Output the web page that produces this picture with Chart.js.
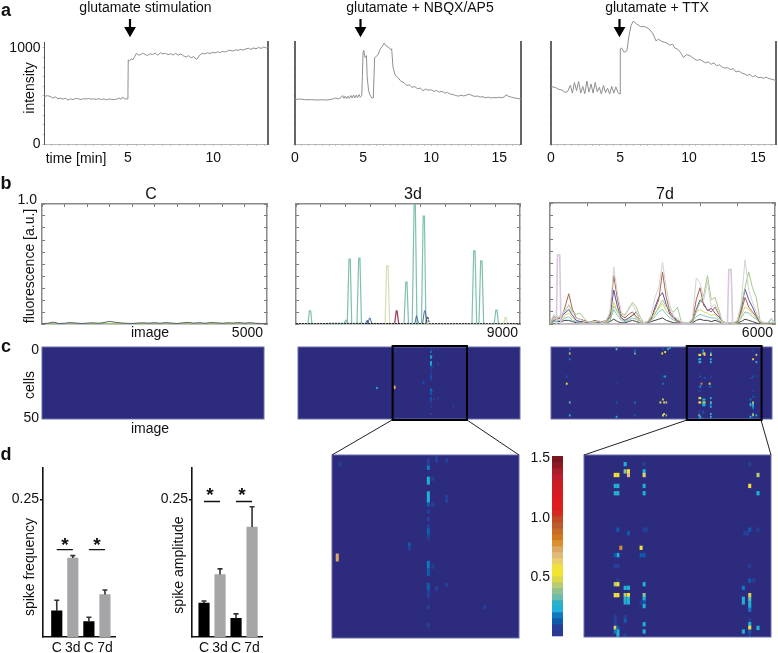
<!DOCTYPE html>
<html>
<head>
<meta charset="utf-8">
<script src="https://cdn.jsdelivr.net/npm/chart.js@4"></script>
<style>
  body { margin: 0; background: #fff; }
  #fig { position: relative; width: 778px; height: 653px; overflow: hidden; }
  #fig canvas { position: absolute; }
  #fig svg { position: absolute; left: 0; top: 0; }
  .t { position: absolute; white-space: nowrap; line-height: 1; color: #111; font-family: "Liberation Sans", Arial, sans-serif; }
</style>
</head>
<body>
<div id="fig"></div>
<script>
// Panel a: intensity traces
const a1Time = [0,.15,.3,.45,.6,.75,.9,1.05,1.2,1.35,
  1.5,1.65,1.8,1.95,2.1,2.25,2.4,2.55,2.7,2.85,
  3,3.15,3.3,3.45,3.6,3.75,3.9,4.05,4.2,4.35,
  4.5,4.6,4.7,4.8,4.9,5,5.02,5.1,5.2,5.3,
  5.4,5.5,5.6,5.7,5.85,6,6.15,6.3,6.45,6.6,
  6.75,6.9,7.05,7.2,7.35,7.5,7.65,7.8,7.95,8.1,
  8.25,8.4,8.55,8.7,8.85,9,9.1,9.2,9.35,9.5,
  9.65,9.8,9.95,10.1,10.25,10.4,10.55,10.7,10.85,11,
  11.15,11.3,11.45,11.6,11.75,11.9,12.05,12.2,12.35,12.5,
  12.65,12.8,12.95,13.1,13.2];
const a1Intensity = [493,497,503,495,480,490,472,478,468,475,
  458,470,462,475,470,463,472,468,474,466,
  470,465,472,463,468,460,470,464,462,468,
  478,465,490,468,470,468,875,868,885,878,
  910,944,930,925,945,934,920,940,932,945,
  925,951,938,945,930,940,927,945,925,937,
  918,905,920,898,910,882,895,925,944,938,
  950,942,955,948,960,952,965,958,970,975,
  968,980,975,985,978,990,997,985,1000,992,
  1005,995,1010,1000,1007];

const a2Time = [0,0.4,0.8,1.2,1.6,2,2.4,2.8,3,3.2,3.4,3.5,3.6,3.7,3.8,3.9,4,4.1,4.2,4.3,4.4,4.5,4.6,4.7,4.8,4.9,4.95,5,5.05,5.15,5.25,5.3,5.4,5.5,5.65,5.75,5.85,5.95,6.1,6.25,6.4,6.55,6.7,6.9,7,7.1,7.2,7.35,
  7.6,7.8,8,8.2,8.4,8.6,8.8,9,9.2,9.4,
  9.6,9.8,10,10.2,10.4,10.6,10.8,11,11.2,11.4,
  11.6,11.8,12,12.2,12.4,12.6,12.8,13,13.2,13.4,
  13.6,13.8,14,14.2,14.4,14.6,14.8,15,15.2,15.4,
  15.5,15.7,15.9,16.1,16.3,16.6];
const a2Intensity = [465,468,460,462,458,460,458,470,480,470,485,505,475,500,472,498,475,505,478,510,480,510,482,515,488,500,700,960,975,900,920,700,560,510,478,480,900,910,930,985,1015,1050,1020,1005,985,990,800,720,
  685,650,640,610,615,590,598,575,582,555,
  572,560,565,548,556,540,548,530,537,520,
  515,505,498,508,500,510,518,505,495,500,
  488,494,480,488,478,485,480,487,482,492,
  512,495,488,480,476,468];

const a3Time = [0,0.3,0.5,0.8,1,1.2,1.4,1.55,1.7,1.85,2,2.15,2.3,2.45,2.6,2.75,2.9,3.05,3.2,3.35,3.5,3.65,3.8,3.95,4.1,4.25,4.4,4.55,4.7,4.85,5,5.02,5.1,5.3,5.5,5.65,5.8,5.95,6.2,6.5,6.8,7.1,7.4,
  7.6,7.8,8,8.2,8.4,8.6,8.8,9,9.2,9.4,
  9.6,9.8,10,10.2,10.4,10.6,10.8,11,11.2,11.4,
  11.6,11.8,12,12.2,12.4,12.6,12.8,13,13.2,13.4,
  13.6,13.8,14,14.2,14.4,14.6,14.8,15,15.2,15.4,
  15.6,15.8,16,16.3];
const a3Intensity = [597,590,573,560,538,545,610,530,640,555,650,530,600,525,655,540,625,530,640,545,590,520,610,535,580,520,600,530,595,535,520,990,1000,955,972,1128,1233,1278,1250,1222,1222,1198,1146,
  1075,1090,1070,1060,1050,1030,1040,995,985,950,
  900,930,925,905,885,870,880,860,845,855,
  830,845,815,825,800,790,795,775,785,750,
  760,740,730,715,725,700,712,690,695,685,
  695,680,675,660];

// Panel b: normalised fluorescence
const b1Image = [0,125,250,375,500,625,750,875,1000,1125,1250,1375,1500,1625,1750,1875,2000,2125,2250,2375,2500,2625,2750,2875,3000,3125,3250,3375,3500,3625,3750,3875,4000,4125,4250,4375,4500,4625,4750,4875,5000];
const b1Dark = [0.003,0.006,0.015,0.004,0.006,0.012,0.008,0.004,0.007,0.010,0.006,0.012,0.022,0.014,0.009,0.006,0.004,0.008,0.010,0.007,0.011,0.006,0.012,0.008,0.004,0.010,0.013,0.007,0.011,0.006,0.012,0.010,0.006,0.010,0.008,0.012,0.007,0.011,0.006,0.004,0.003];
const b1Green = [0.002,0.003,0.004,0.002,0.003,0.004,0.003,0.002,0.003,0.004,0.002,0.004,0.005,0.004,0.003,0.002,0.003,0.003,0.004,0.002,0.003,0.003,0.004,0.003,0.002,0.003,0.004,0.003,0.004,0.002,0.004,0.003,0.002,0.003,0.004,0.003,0.002,0.003,0.003,0.002,0.002];

const b2TealImage = [0,480,540,590,640,1930,1990,2030,2060,2130,2180,2240,2450,2520,2570,2630,4340,4410,4460,4520,4670,4745,4795,4860,5040,5110,5160,5220,7070,7140,7195,7260,7350,7420,7475,7540,7960,8030,8075,8140,9000];
const b2Teal = [0,0,0.11,0.11,0,0,0.03,0.03,0,0.54,0.54,0,0,0.55,0.55,0,0,0.35,0.35,0,0,0.995,0.995,0,0,0.90,0.90,0,0,0.61,0.61,0,0,0.526,0.526,0,0,0.115,0.115,0,0];
const b2PaleImage = [3580,3640,3700,3760,8340,8410,8440,8500];
const b2Pale = [0,0.485,0.485,0,0,0.055,0.055,0];
const b2RedImage = [3960,4030,4060,4130];
const b2Red = [0,0.11,0.11,0];
const b2BlueImage = [2790,2850,2870,2880,2950,2980,3050,4770,4840,4860,4930,5080,5160,5190,5270];
const b2Blue = [0,0.03,0.03,0,0.05,0.05,0,0,0.07,0.07,0,0,0.11,0.11,0];
const b2BlackImage = [0,1200,1300,5220,5280,5300,5360,9000];
const b2Black = [0.003,0.003,0.006,0.003,0.06,0.06,0.003,0.003];

const b3Image = [0,100,200,300,400,500,600,700,800,900,1000,1100,1200,1300,1400,1500,1600,1700,1800,1900,2000,2100,2200,2300,2400,2500,2600,2700,2800,2900,3000,3100,3200,3300,3400,3500,3600,3700,3800,3900,4000,4100,4200,4300,4400,4500,4600,4700,4800,4900,5000,5100,5200,5300,5400,5500,5600,5700,5800,5900,6000];
const b3Gray = [.01,.08,.06,.06,.12,.15,.08,.05,.04,.02, .02,.01,.02,.03,.01,.03,.10,.47,.25,.10, .06,.14,.16,.10,.03,.01,.02,.08,.22,.30, .51,.30,.15,.06,.05,.01,.01,.01,.05,.38, .34,.20,.35,.14,.16,.10,.02,.01,.01,.01, .03,.18,.53,.28,.18,.10,.02,.01,.01,.05,.01];
const b3Green = [.01,.04,.05,.08,.10,.16,.10,.08,.09,.05, .02,.02,.02,.02,.01,.02,.03,.15,.10,.08, .08,.12,.18,.14,.06,.01,.02,.06,.08,.14, .20,.14,.12,.10,.14,.02,.01,.01,.02,.10, .18,.24,.40,.20,.22,.12,.02,.01,.01,.01, .03,.15,.30,.43,.30,.22,.03,.01,.01,.01,.01];
const b3Brown = [.01,.06,.05,.04,.14,.25,.12,.05,.04,.03, .02,.02,.03,.02,.02,.03,.08,.40,.20,.07, .05,.08,.10,.06,.03,.01,.02,.05,.12,.20, .43,.22,.10,.06,.03,.01,.01,.01,.03,.20, .30,.15,.12,.10,.14,.08,.02,.01,.01,.01, .02,.10,.22,.14,.10,.06,.01,.01,0,0,0];
const b3Blue = [.01,.03,.04,.06,.09,.12,.07,.03,.02,.02, .01,.01,.02,.01,.01,.02,.06,.28,.14,.05, .03,.05,.07,.10,.03,.01,.01,.04,.14,.22, .26,.16,.08,.05,.02,.01,.01,.01,.02,.12, .20,.17,.11,.13,.09,.06,.02,.01,.01,.01, .02,.12,.29,.20,.14,.07,.01,.01,0,0,0];
const b3Yellow = [0,.03,.05,.04,.07,.09,.05,.03,.02,.01, .01,.01,.01,.01,.01,.01,.05,.18,.10,.04, .03,.04,.08,.05,.02,0,.01,.03,.09,.13, .17,.11,.07,.04,.02,.01,0,0,.02,.10, .12,.10,.09,.07,.08,.04,.01,0,0,0, .01,.07,.14,.12,.08,.05,.01,0,0,0,0];
const b3Teal = [0,.02,.03,.03,.05,.06,.03,.02,.01,.01, .01,.01,.01,.01,.01,.01,.03,.12,.07,.03, .02,.03,.05,.04,.01,.01,.01,.03,.06,.10, .12,.08,.05,.03,.02,.01,.01,.01,.02,.06, .08,.07,.06,.05,.05,.03,.01,.01,0,0, .01,.05,.10,.09,.06,.04,.01,0,0,.04,0];
const b3Dark = [0,.02,.02,.02,.03,.03,.02,.01,.01,.02, .01,.01,.02,.01,.01,.01,.02,.04,.02,.01, .01,.02,.03,.02,.01,0,.01,.02,.03,.04, .05,.03,.02,.01,.01,0,0,0,.01,.03, .04,.03,.03,.02,.03,.02,0,0,0,0, .01,.02,.04,.03,.02,.01,0,0,0,0,0];
const b3LilacImage = [170,200,260,290,4730,4770,4830,4870];
const b3Lilac = [0,.57,.57,0,0,.45,.45,0];

// Panel c: active cells, everything not listed sits at the zero level
const c1Cols = [];
const c1Rows = [];
const c1Vals = [];

const c2Cols = [5389,5389,5389,5389,5389,5389,5389,5389,5389,5389,5389,5389,5389,5389,5389,5389,5389,5389,5389,5389,5389,5389,5389,5389,5389,5522,5522,5683,5683,5683,3969,5083,5083,3920,3920,5458,5458,5458,5522,5683,6299,3202];
const c2Rows = [1,2,3,6,7,10,11,12,13,15,17,19,20,21,22,29,30,31,32,35,36,37,38,41,46,0,1,1,11,12,2,24,25,27,28,6,13,30,36,35,41,28];
const c2Vals = [.07,.07,.15,.22,.2,.2,.22,.2,.12,.08,.06,.08,.1,.1,.08,.15,.15,.14,.12,.1,.1,.09,.07,.07,.05,.08,.08,.06,.08,.07,.06,.1,.08,.7,.72,.06,.05,.07,.05,.06,.05,.2];

const c3Cols = [4133,4133,4169,4169,4025,4054,4339,4339,4339,4025,4054,4339,4025,4054,4339,5576,5486,5576,5486,4054,4339,4367,5486,5576,4169,5432,5461,4086,4306,4054,4025,4306,4339,4025,4054,5486,5486,5529,4054,4025,4054,4339,4133,4169,5417,4025,4054,4133,4169,4339,5486,4133,4169,4339,5417,5486,4133,4169,5417,5486,4339,4306,4339,5486,5486,4025,4133,4133,4025,5486,4339,4025,5486,4025,5486,5576,4054,4054,4025,4339,5417,5486,4054,5486,4133,
  509,509,509,1780,2278,2278,3176,3040,3230,3020,3100,3040,3100,3040,427,427,1780,1780,509,2278,3040,2970,3070,3130,3040,3070,3130,509,1780,2278];
const c3Rows = [2,4,4,5,5,5,4,5,2,8,8,8,10,10,10,5,8,10,2,20,20,20,20,20,21,21,21,25,25,27,27,27,27,30,30,30,34,34,34,35,35,35,36,36,36,38,38,38,38,38,38,39,39,39,39,39,40,40,40,40,40,40,41,41,42,44,44,45,45,45,46,46,46,47,47,47,47,48,48,48,48,48,49,49,49,
  1,4,8,1,2,4,1,1,0,4,3,20,20,25,20,25,25,38,38,38,36,38,38,38,47,46,47,47,48,47];
const c3Vals = [.2,.35,.55,.65,.55,.5,.2,.6,.07,.2,.2,.2,.2,.25,.2,.4,.55,.2,.08,.12,.08,.08,.1,.08,.1,.08,.08,.75,.55,.2,.1,.12,.1,.06,.06,.08,.1,.08,.08,.4,.5,.2,.2,.2,.15,.55,.5,.4,.5,.35,.45,.25,.25,.2,.2,.3,.2,.2,.2,.25,.1,.08,.2,.2,.15,.07,.08,.1,.05,.06,.2,.08,.2,.6,.55,.2,.1,.25,.15,.2,.2,.1,.2,.08,.05,
  .15,.4,.15,.3,.15,.3,.25,.1,.25,.5,.5,.12,.2,.15,.1,.5,.08,.12,.3,.15,.45,.5,.6,.4,.5,.6,.3,.2,.2,.1];

// Colour bar
const colorbarLevels = [0,.05,.1,.15,.2,.25,.3,.35,.4,.45,.5,.55,.6,.65,.7,.75,.8,.85,.9,.95,1,1.05,1.1,1.15,1.2,1.25,1.3,1.35,1.4,1.45];
const colorbarColors = ['#2b3990','#26409a','#0f5cab','#1177bf','#1fb0d8','#2bb0c8','#6cbcae','#8dc18f','#b8cb6e','#dcd84a','#f1e52e','#f3e03a','#e8cf6a','#e2bb7a','#dba763','#d98f30','#cf7a1e','#c76b26','#bb5a2a','#c24a22','#d42a1f','#e01f1d','#e01b1e','#d81b20','#d01c22','#c91d23','#be1e2d','#a81e2a','#8e1a26','#7a1620'];

// Panel d: bars
const dCategories = ['C','3d','C','7d'];
const dPositions = [1,2,3,4];
const freqMeans = [0.0474,0.1435,0.028,0.0773];
const freqErrors = [0.0668,0.148,0.036,0.0855];
const ampMeans = [0.0615,0.1135,0.034,0.2];
const ampErrors = [0.0655,0.124,0.042,0.237];
const freqBrackets = [[1,2,0.159],[3,4,0.159]];
const ampBrackets = [[1,2,0.2465],[3,4,0.2465]];

const fig = document.getElementById('fig');
const FONT = '"Liberation Sans", Arial, sans-serif';
const NAVY = '#2d2b7d';

function xy(xs, ys) {
  return xs.map((x, i) => ({ x: x, y: ys[i] }));
}

function text(str, x, y, opt) {
  opt = opt || {};
  const d = document.createElement('div');
  d.className = 't';
  d.textContent = str;
  d.style.left = x + 'px';
  d.style.top = y + 'px';
  d.style.fontSize = (opt.size || 14) + 'px';
  if (opt.bold) d.style.fontWeight = 'bold';
  let tr = opt.right ? 'translate(-100%,-50%)' : 'translate(-50%,-50%)';
  if (opt.rotate) tr += ' rotate(-90deg)';
  d.style.transform = tr;
  fig.appendChild(d);
}

// canvas around plot box l,t,r,b. Axes with labels take the margin, the rest get zero size, so the box is exact
function addChart(box, config, pad) {
  const c = document.createElement('canvas');
  const w = box[2] - box[0] + pad.l + pad.r;
  const h = box[3] - box[1] + pad.t + pad.b;
  c.width = w;
  c.height = h;
  c.style.left = (box[0] - pad.l) + 'px';
  c.style.top = (box[1] - pad.t) + 'px';
  c.style.width = w + 'px';
  c.style.height = h + 'px';
  fig.appendChild(c);
  const padding = { left: pad.l, top: pad.t, right: pad.r, bottom: pad.b };
  Object.values(config.options.scales).forEach(s => {
    const labelled = !s.ticks || s.ticks.display !== false;
    const isLeft = s.labelSide === 'left';
    const isBottom = s.labelSide === 'bottom';
    if (labelled && isLeft) padding.left = 0;
    if (labelled && isBottom) padding.bottom = 0;
    s.afterFit = ax => {
      if (ax.isHorizontal()) ax.height = labelled && isBottom ? pad.b : 0;
      else ax.width = labelled && isLeft ? pad.l : 0;
    };
  });
  config.options = Object.assign({
    responsive: false,
    animation: false,
    layout: { padding: padding },
    plugins: { legend: { display: false }, tooltip: { enabled: false } }
  }, config.options);
  return new Chart(c.getContext('2d'), config);
}

function traceChart(box, time, values, xMax, xMin, xLabels, showY, leftColor, leftWidth, unclipped) {
  addChart(box, {
    type: 'line',
    data: { datasets: [{ data: xy(time, values), borderColor: '#8f8f8f', borderWidth: 1, pointRadius: 0, tension: 0, clip: unclipped ? false : undefined }] },
    options: {
      scales: {
        x: {
          type: 'linear', min: xMin, max: xMax, labelSide: 'bottom',
          border: { color: '#b5b5b5', width: 1 },
          grid: { drawOnChartArea: false, color: '#c4c4c4', tickLength: 2 },
          ticks: {
            stepSize: 0.5, includeBounds: false, autoSkip: false, maxRotation: 0, padding: 4,
            color: '#111', font: { family: FONT, size: 14 },
            callback: v => xLabels.includes(v) ? String(v) : ''
          }
        },
        y: {
          type: 'linear', min: 0, max: 1062, labelSide: 'left',
          border: { color: leftColor, width: leftWidth },
          grid: { drawOnChartArea: false, color: '#c4c4c4', tickLength: 1.5 },
          ticks: {
            stepSize: 100, includeBounds: false, autoSkip: false, display: showY, padding: 2,
            color: '#111', font: { family: FONT, size: 14 },
            callback: v => (v === 0 || v === 1000) ? String(v) : ''
          }
        },
        yR: {
          type: 'linear', position: 'right', min: 0, max: 1062,
          border: { color: '#666', width: 2 },
          grid: { display: false }, ticks: { display: false }
        }
      }
    }
  }, { l: 44, t: 30, r: 4, b: 24 });
}

function fluorChart(box, xMax, xStep, datasets) {
  const frame = { color: '#8a8a8a', width: 1.5 };
  const inner = { drawOnChartArea: false, color: '#777', tickLength: -3 };
  datasets.forEach(d => {
    d.pointRadius = 0;
    d.tension = 0;
    d.borderWidth = d.borderWidth || 1;
  });
  addChart(box, {
    type: 'line',
    data: { datasets: datasets },
    options: {
      scales: {
        x: { type: 'linear', min: 0, max: xMax, border: frame, grid: { display: false }, ticks: { display: false } },
        xT: { type: 'linear', position: 'top', min: 0, max: xMax, border: frame, grid: inner, ticks: { stepSize: xStep, display: false, includeBounds: false, autoSkip: false } },
        y: { type: 'linear', min: 0, max: 1, border: frame, grid: inner, ticks: { stepSize: 0.1, display: false, includeBounds: false, autoSkip: false } },
        yR: { type: 'linear', position: 'right', min: 0, max: 1, border: frame, grid: inner, ticks: { stepSize: 0.1, display: false, includeBounds: false, autoSkip: false } }
      }
    }
  }, { l: 6, t: 6, r: 6, b: 6 });
}

function cellColor(v) {
  let k = 0;
  colorbarLevels.forEach((l, i) => { if (v >= l) k = i; });
  return colorbarColors[k];
}

// zero-level background and edge of a heat map, plus the optional black zoom box
function heatDecor(zoomBox) {
  return {
    id: 'heatDecor',
    beforeDatasetsDraw(chart) {
      const a = chart.chartArea, g = chart.ctx;
      g.fillStyle = NAVY;
      g.fillRect(a.left, a.top, a.width, a.height);
    },
    afterDatasetsDraw(chart) {
      const a = chart.chartArea, g = chart.ctx;
      g.strokeStyle = '#6d6cae';
      g.lineWidth = 1;
      g.strokeRect(a.left, a.top, a.width, a.height);
      if (zoomBox) {
        const x0 = chart.scales.x.getPixelForValue(zoomBox[0]);
        const x1 = chart.scales.x.getPixelForValue(zoomBox[1]);
        g.strokeStyle = '#000';
        g.lineWidth = 2;
        g.strokeRect(x0, a.top - 1, x1 - x0, a.height + 2);
      }
    }
  };
}

function heatChart(box, cols, rows, vals, xMin, xMax, thickness, zoomBox) {
  addChart(box, {
    type: 'bar',
    data: { datasets: [{
      data: cols.map((c, i) => ({ x: c, y: [rows[i], rows[i] + 1] })),
      backgroundColor: vals.map(cellColor),
      barThickness: thickness,
      borderWidth: 0,
      clip: 0
    }] },
    options: {
      scales: {
        x: { type: 'linear', offset: false, min: xMin, max: xMax, display: false },
        y: { type: 'linear', min: 0, max: 50, reverse: true, display: false }
      }
    },
    plugins: [heatDecor(zoomBox)]
  }, { l: 3, t: 3, r: 3, b: 3 });
}

function barChart(box, means, errors, brackets, xMin, xMax) {
  const lines = brackets.map(b => ({
    type: 'line',
    data: [{ x: b[0], y: b[2] }, { x: b[1], y: b[2] }],
    borderColor: '#111', borderWidth: 1.3, pointRadius: 0
  }));
  const errorBars = {
    id: 'errorBars',
    afterDatasetsDraw(chart) {
      const g = chart.ctx, sx = chart.scales.x, sy = chart.scales.y;
      g.strokeStyle = '#333';
      g.lineWidth = 1.6;
      means.forEach((m, i) => {
        const x = sx.getPixelForValue(dPositions[i]);
        const y0 = sy.getPixelForValue(m), y1 = sy.getPixelForValue(errors[i]);
        g.beginPath();
        g.moveTo(x, y0);
        g.lineTo(x, y1);
        g.moveTo(x - 2.5, y1);
        g.lineTo(x + 2.5, y1);
        g.stroke();
      });
    }
  };
  addChart(box, {
    type: 'bar',
    data: { datasets: [{
      data: xy(dPositions, means),
      backgroundColor: ['#000', '#a5a5a8', '#000', '#a5a5a8'],
      barThickness: 10.5
    }].concat(lines) },
    options: {
      scales: {
        x: {
          type: 'linear', offset: false, min: xMin, max: xMax, labelSide: 'bottom',
          border: { color: '#111', width: 1.6 },
          grid: { display: false, drawTicks: false },
          afterBuildTicks: ax => { ax.ticks = dPositions.map(v => ({ value: v })); },
          ticks: {
            autoSkip: false, maxRotation: 0, padding: 3,
            color: '#111', font: { family: FONT, size: 14 },
            callback: v => dCategories[v - 1]
          }
        },
        y: {
          type: 'linear', min: 0, max: 0.3085, labelSide: 'left',
          border: { color: '#111', width: 1.6 },
          grid: { drawOnChartArea: false, color: '#111', tickLength: 3, lineWidth: 1.4 },
          afterBuildTicks: ax => { ax.ticks = [{ value: 0.25 }]; },
          ticks: {
            padding: 1, color: '#111', font: { family: FONT, size: 14 },
            callback: v => v.toFixed(2)
          }
        }
      }
    },
    plugins: [errorBars]
  }, { l: 40, t: 4, r: 6, b: 16 });
}

// a
traceChart([44, 42, 268, 144], a1Time, a1Intensity, 13.2, 0.09, [5, 10], true, '#555', 1, false);
traceChart([295, 42, 521, 144], a2Time, a2Intensity, 16.6, 0, [0, 5, 10, 15], false, '#666', 2, false);
traceChart([551, 42, 776, 144], a3Time, a3Intensity, 16.3, 0, [0, 5, 10, 15], false, '#666', 2, true);

// b
fluorChart([42, 204, 267, 324], 5000, 500, [
  { data: xy(b1Image, b1Dark), borderColor: '#55606a' },
  { data: xy(b1Image, b1Green), borderColor: '#9ccb6a' }
]);
fluorChart([296, 204, 520, 324], 9000, 1000, [
  { data: xy(b2BlackImage, b2Black), borderColor: '#222', borderDash: [2, 1] },
  { data: xy(b2PaleImage, b2Pale), borderColor: '#d9dcb4', borderWidth: 1.2 },
  { data: xy(b2RedImage, b2Red), borderColor: '#a03a50', borderWidth: 1.2 },
  { data: xy(b2BlueImage, b2Blue), borderColor: '#4a6ea0', borderWidth: 1 },
  { data: xy(b2TealImage, b2Teal), borderColor: '#7fc0b0', borderWidth: 1.2 }
]);
fluorChart([550, 203, 775, 324], 6000, 1000, [
  { data: xy(b3LilacImage, b3Lilac), borderColor: '#d8c8dc', borderWidth: 1.6 },
  { data: xy(b3Image, b3Gray), borderColor: '#d2d2d2' },
  { data: xy(b3Image, b3Green), borderColor: '#a5c88a' },
  { data: xy(b3Image, b3Brown), borderColor: '#a8644e' },
  { data: xy(b3Image, b3Blue), borderColor: '#5a4fa0' },
  { data: xy(b3Image, b3Yellow), borderColor: '#d9d46a' },
  { data: xy(b3Image, b3Teal), borderColor: '#7fc4c4' },
  { data: xy(b3Image, b3Dark), borderColor: '#444' }
]);

// c
heatChart([42, 347, 264, 419], c1Cols, c1Rows, c1Vals, 0, 5000, 1);
heatChart([298, 347, 520, 419], c2Cols, c2Rows, c2Vals, 0, 9000, 1.1, [3835, 6851]);
heatChart([551, 347, 772, 419], c3Cols, c3Rows, c3Vals, 0, 6000, 1.1, [3686, 5717]);
heatChart([332, 455, 519, 638], c2Cols, c2Rows, c2Vals, 3835, 6851, 2.4);
heatChart([584, 455, 771, 637], c3Cols, c3Rows, c3Vals, 3686, 5717, 2.4);

// colour bar
addChart([552, 456, 563, 638], {
  type: 'bar',
  data: { datasets: [{
    data: colorbarLevels.map((l, i) => ({ x: 0, y: [l, l + 0.05] })),
    backgroundColor: colorbarColors,
    barThickness: 11,
    borderWidth: 0
  }] },
  options: {
    scales: {
      x: { type: 'linear', offset: false, min: -1, max: 1, display: false },
      y: { type: 'linear', min: -0.017, max: 1.5, display: false }
    }
  }
}, { l: 3, t: 3, r: 3, b: 3 });

// d
barChart([43, 462, 115, 637], freqMeans, freqErrors, freqBrackets, 0.144, 4.625);
barChart([192, 462, 262, 637], ampMeans, ampErrors, ampBrackets, 0.25, 4.62);

// arrows and zoom connectors
const svgNS = 'http://www.w3.org/2000/svg';
const svg = document.createElementNS(svgNS, 'svg');
svg.setAttribute('width', 778);
svg.setAttribute('height', 653);
[[130, 19], [360.5, 19], [619.5, 19]].forEach(p => {
  const a = document.createElementNS(svgNS, 'path');
  a.setAttribute('d', `M${p[0]} ${p[1]}V${p[1] + 9}M${p[0] - 4} ${p[1] + 9}L${p[0]} ${p[1] + 16}L${p[0] + 4} ${p[1] + 9}Z`);
  a.setAttribute('stroke', '#000');
  a.setAttribute('stroke-width', 2.2);
  a.setAttribute('fill', '#000');
  svg.appendChild(a);
});
[[392, 420, 332, 455], [467, 420, 519, 455], [687, 420, 584, 455], [761, 420, 771, 455]].forEach(p => {
  const l = document.createElementNS(svgNS, 'line');
  l.setAttribute('x1', p[0]); l.setAttribute('y1', p[1]);
  l.setAttribute('x2', p[2]); l.setAttribute('y2', p[3]);
  l.setAttribute('stroke', '#222');
  l.setAttribute('stroke-width', 1);
  svg.appendChild(l);
});
fig.appendChild(svg);

// text
text('a', 6, 10, { size: 18, bold: true });
text('b', 6, 183, { size: 18, bold: true });
text('c', 6, 346, { size: 18, bold: true });
text('d', 6, 454, { size: 18, bold: true });
text('glutamate stimulation', 145.5, 7);
text('glutamate + NBQX/AP5', 420, 7);
text('glutamate + TTX', 657, 7);
text('intensity', 29, 88, { rotate: true });
text('time [min]', 76, 158);
text('C', 151, 194, { size: 16 });
text('3d', 413, 194, { size: 16 });
text('7d', 665, 194, { size: 16 });
text('1.0', 37, 199, { right: true });
text('fluorescence [a.u.]', 29, 266, { rotate: true });
text('image', 150, 332);
text('5000', 263, 332, { right: true });
text('9000', 518, 332, { right: true });
text('6000', 773, 332, { right: true });
text('0', 39, 349, { right: true });
text('50', 39, 417, { right: true });
text('cells', 29, 385, { rotate: true });
text('image', 150, 428);
text('1.5', 550, 457, { right: true });
text('1.0', 550, 517, { right: true });
text('0.5', 550, 576, { right: true });
text('spike frequency', 29, 567, { rotate: true });
text('spike amplitude', 178, 565, { rotate: true });
text('*', 65, 544, { size: 19, bold: true });
text('*', 97, 544, { size: 19, bold: true });
text('*', 210, 494, { size: 19, bold: true });
text('*', 242, 494, { size: 19, bold: true });
</script>
</body>
</html>
